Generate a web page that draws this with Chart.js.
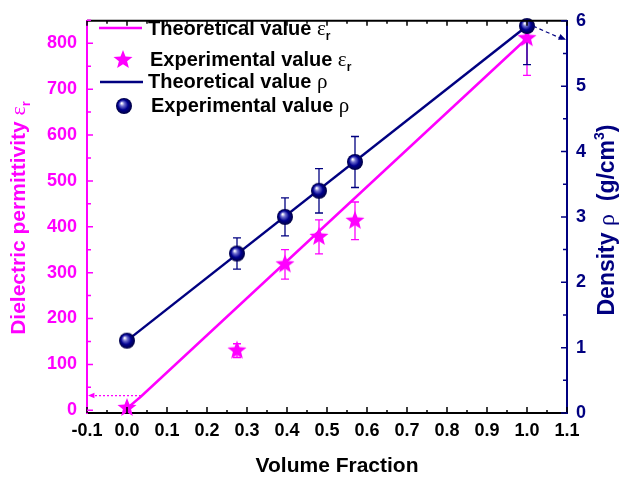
<!DOCTYPE html>
<html>
<head>
<meta charset="utf-8">
<script src="https://cdn.jsdelivr.net/npm/chart.js@4.4.1/dist/chart.umd.min.js"></script>
<style>
  html, body { margin: 0; padding: 0; background: #fff; }
  #wrap { width: 624px; height: 480px; position: relative; }
</style>
</head>
<body>
<div id="wrap"><canvas id="myChart"></canvas></div>
<script>
const PINK = '#ff00ff';
const NAVY = '#000080';
const SANS = "'Liberation Sans', Arial, sans-serif";
const SERIF = "'Liberation Serif', 'DejaVu Serif', serif";

// tick labels
const xTicks = [-0.1, 0.0, 0.1, 0.2, 0.3, 0.4, 0.5, 0.6, 0.7, 0.8, 0.9, 1.0, 1.1];
const epsTicks = [0, 100, 200, 300, 400, 500, 600, 700, 800];
const rhoTicks = [0, 1, 2, 3, 4, 5, 6];

// theoretical curves
const theoryEpsX = [0, 0.035, 1.0];
const theoryEpsY = [4, 30, 811];
const theoryRhoX = [0, 1.0];
const theoryRhoY = [1.107, 5.92];

// measured samples
const fractions = [0, 0.275, 0.395, 0.48, 0.57, 1.0];
const epsValues = [5, 130, 318, 378, 413, 811];
const epsErrors = [0, 15, 32, 37, 41, 81];
const rhoValues = [1.107, 2.44, 3.0, 3.40, 3.84, 5.92];
const rhoErrors = [0, 0.24, 0.29, 0.34, 0.39, 0.59];

// guide arrows to the axes
const epsGuide = { x: 0.035, y: 32 };
const rhoGuide = { x: 1.0, y: 5.92, axisY: 5.71 };

const pts = (xs, ys) => xs.map((v, i) => ({ x: v, y: ys[i] }));

function makeStar(r) {
  const s = Math.ceil(r * 2 + 2);
  const c = document.createElement('canvas');
  c.width = s; c.height = s;
  const g = c.getContext('2d');
  g.fillStyle = PINK;
  g.beginPath();
  for (let i = 0; i < 10; i++) {
    const rad = i % 2 ? r * 0.43 : r;
    const a = -Math.PI / 2 + i * Math.PI / 5;
    g.lineTo(s / 2 + rad * Math.cos(a), s / 2 + rad * Math.sin(a));
  }
  g.closePath();
  g.fill();
  return c;
}

function makeBall(r) {
  const s = Math.ceil(r * 2 + 2);
  const c = document.createElement('canvas');
  c.width = s; c.height = s;
  const g = c.getContext('2d');
  const grad = g.createRadialGradient(s / 2 - r * 0.3, s / 2 - r * 0.35, r * 0.05, s / 2, s / 2, r);
  grad.addColorStop(0, '#ffffff');
  grad.addColorStop(0.25, '#7070d0');
  grad.addColorStop(0.6, '#000090');
  grad.addColorStop(1, '#000040');
  g.fillStyle = grad;
  g.beginPath();
  g.arc(s / 2, s / 2, r, 0, Math.PI * 2);
  g.fill();
  return c;
}

const starImg = makeStar(10);
const ballImg = makeBall(8);

function richText(ctx, parts, x, y, align) {
  let w = 0;
  parts.forEach(p => { ctx.font = p[1]; w += ctx.measureText(p[0]).width; });
  let cx = align === 'center' ? x - w / 2 : x;
  parts.forEach(p => {
    ctx.font = p[1];
    ctx.fillText(p[0], cx, y + (p[2] || 0));
    cx += ctx.measureText(p[0]).width;
  });
}

function drawErrors(ctx, xs, ys, xv, yv, ev, color) {
  ctx.strokeStyle = color;
  ctx.lineWidth = 1.3;
  xv.forEach((v, i) => {
    if (!ev[i]) return;
    const px = xs.getPixelForValue(v);
    const lo = ys.getPixelForValue(yv[i] - ev[i]);
    const hi = ys.getPixelForValue(yv[i] + ev[i]);
    ctx.beginPath();
    ctx.moveTo(px, lo); ctx.lineTo(px, hi);
    ctx.moveTo(px - 4, lo); ctx.lineTo(px + 4, lo);
    ctx.moveTo(px - 4, hi); ctx.lineTo(px + 4, hi);
    ctx.stroke();
  });
}

function arrowHead(ctx, x1, y1, x2, y2, size) {
  const a = Math.atan2(y2 - y1, x2 - x1);
  ctx.beginPath();
  ctx.moveTo(x2, y2);
  ctx.lineTo(x2 - size * Math.cos(a - 0.4), y2 - size * Math.sin(a - 0.4));
  ctx.lineTo(x2 - size * Math.cos(a + 0.4), y2 - size * Math.sin(a + 0.4));
  ctx.closePath();
  ctx.fill();
}

const decor = {
  id: 'decor',
  beforeDatasetsDraw(chart) {
    const { ctx, chartArea: a, scales: { x, y, y2 } } = chart;
    ctx.save();
    ctx.beginPath();
    ctx.rect(a.left, a.top, a.right - a.left, a.bottom - a.top);
    ctx.clip();
    drawErrors(ctx, x, y, fractions, epsValues, epsErrors, PINK);
    drawErrors(ctx, x, y2, fractions, rhoValues, rhoErrors, NAVY);
    ctx.restore();
  },
  afterDraw(chart) {
    const { ctx, chartArea: a, scales: { x, y, y2 } } = chart;
    ctx.save();

    // top frame line
    ctx.strokeStyle = '#000';
    ctx.lineWidth = 2;
    ctx.beginPath();
    ctx.moveTo(a.left, a.top); ctx.lineTo(a.right, a.top);
    ctx.stroke();

    // inward ticks
    ctx.lineWidth = 1.5;
    xTicks.forEach((v, i) => {
      const px = x.getPixelForValue(v);
      ctx.strokeStyle = '#000';
      ctx.beginPath();
      ctx.moveTo(px, a.bottom); ctx.lineTo(px, a.bottom - 6);
      ctx.moveTo(px, a.top); ctx.lineTo(px, a.top + 5);
      if (i < xTicks.length - 1) {
        const m = x.getPixelForValue((v + xTicks[i + 1]) / 2);
        ctx.moveTo(m, a.bottom); ctx.lineTo(m, a.bottom - 3);
        ctx.moveTo(m, a.top); ctx.lineTo(m, a.top + 3);
      }
      ctx.stroke();
    });
    ctx.strokeStyle = PINK;
    epsTicks.forEach(v => {
      const py = y.getPixelForValue(v);
      const m = y.getPixelForValue(v + 50);
      ctx.beginPath();
      ctx.moveTo(a.left, py); ctx.lineTo(a.left + 6, py);
      ctx.moveTo(a.left, m); ctx.lineTo(a.left + 4, m);
      ctx.stroke();
    });
    ctx.strokeStyle = NAVY;
    rhoTicks.forEach((v, i) => {
      const py = y2.getPixelForValue(v);
      ctx.beginPath();
      ctx.moveTo(a.right, py); ctx.lineTo(a.right - 6, py);
      if (i < rhoTicks.length - 1) {
        const m = y2.getPixelForValue(v + 0.5);
        ctx.moveTo(a.right, m); ctx.lineTo(a.right - 4, m);
      }
      ctx.stroke();
    });

    // dotted guide to the permittivity axis
    const ey = y.getPixelForValue(epsGuide.y);
    const ex = x.getPixelForValue(epsGuide.x);
    ctx.strokeStyle = PINK; ctx.fillStyle = PINK;
    ctx.lineWidth = 1.2;
    ctx.setLineDash([2, 2]);
    ctx.beginPath(); ctx.moveTo(ex, ey); ctx.lineTo(a.left + 2, ey); ctx.stroke();
    ctx.setLineDash([]);
    arrowHead(ctx, ex, ey, a.left + 1, ey, 7);

    // dashed guide to the density axis
    const rx = x.getPixelForValue(rhoGuide.x) + 6;
    const ry = y2.getPixelForValue(rhoGuide.y);
    const ay = y2.getPixelForValue(rhoGuide.axisY);
    ctx.strokeStyle = NAVY; ctx.fillStyle = NAVY;
    ctx.setLineDash([4, 3]);
    ctx.beginPath(); ctx.moveTo(rx, ry); ctx.lineTo(a.right - 3, ay); ctx.stroke();
    ctx.setLineDash([]);
    arrowHead(ctx, rx, ry, a.right - 1, ay, 8);

    // axis titles
    ctx.textBaseline = 'alphabetic';
    ctx.fillStyle = '#000';
    richText(ctx, [['Volume Fraction', 'bold 21px ' + SANS]], (a.left + a.right) / 2 + 10, 472, 'center');

    ctx.save();
    ctx.translate(25, 218);
    ctx.rotate(-Math.PI / 2);
    ctx.fillStyle = PINK;
    richText(ctx, [['Dielectric permittivity ', 'bold 21px ' + SANS], ['\u03b5', '22px ' + SERIF], ['r', 'bold 13px ' + SANS, 5]], 0, 0, 'center');
    ctx.restore();

    ctx.save();
    ctx.translate(614, 220);
    ctx.rotate(-Math.PI / 2);
    ctx.fillStyle = NAVY;
    const rf = 'bold 23px ' + SANS;
    richText(ctx, [['Density ', rf], ['\u03c1', '24px ' + SERIF], ['  (g/cm', rf], ['3', 'bold 14px ' + SANS, -10], [')', rf]], 0, 0, 'center');
    ctx.restore();

    // legend
    const lf = 'bold 20px ' + SANS;
    ctx.lineWidth = 2.5;
    ctx.strokeStyle = PINK;
    ctx.beginPath(); ctx.moveTo(99, 28); ctx.lineTo(142, 28); ctx.stroke();
    ctx.fillStyle = '#000';
    richText(ctx, [['Theoretical value ', lf], ['\u03b5', '21px ' + SERIF], ['r', 'bold 12px ' + SANS, 5]], 148, 35);
    ctx.drawImage(starImg, 123 - starImg.width / 2, 60 - starImg.height / 2);
    richText(ctx, [['Experimental value ', lf], ['\u03b5', '21px ' + SERIF], ['r', 'bold 12px ' + SANS, 5]], 150, 66);
    ctx.strokeStyle = NAVY;
    ctx.beginPath(); ctx.moveTo(100, 82); ctx.lineTo(143, 82); ctx.stroke();
    richText(ctx, [['Theoretical value ', lf], ['\u03c1', '21px ' + SERIF]], 148, 88);
    ctx.drawImage(ballImg, 124 - ballImg.width / 2, 106 - ballImg.height / 2);
    richText(ctx, [['Experimental value ', lf], ['\u03c1', '21px ' + SERIF]], 151, 112);

    ctx.restore();
  }
};

const tickFont = { family: SANS, size: 18, weight: 'bold' };

new Chart(document.getElementById('myChart').getContext('2d'), {
  type: 'scatter',
  data: {
    datasets: [
      {
        label: 'Experimental value ρ',
        data: pts(fractions, rhoValues),
        yAxisID: 'y2',
        pointStyle: ballImg,
        pointRadius: 8,
        showLine: false,
        clip: false,
        order: 0
      },
      {
        label: 'Theoretical value ρ',
        data: pts(theoryRhoX, theoryRhoY),
        yAxisID: 'y2',
        showLine: true,
        borderColor: NAVY,
        borderWidth: 2.5,
        pointRadius: 0,
        order: 1
      },
      {
        label: 'Experimental value εr',
        data: pts(fractions, epsValues),
        yAxisID: 'y',
        pointStyle: starImg,
        pointRadius: 10,
        showLine: false,
        clip: false,
        order: 2
      },
      {
        label: 'Theoretical value εr',
        data: pts(theoryEpsX, theoryEpsY),
        yAxisID: 'y',
        showLine: true,
        borderColor: PINK,
        borderWidth: 2.5,
        pointRadius: 0,
        order: 3
      }
    ]
  },
  options: {
    responsive: true,
    maintainAspectRatio: false,
    animation: false,
    events: [],
    layout: { padding: { top: 16 } },
    plugins: { legend: { display: false }, tooltip: { enabled: false } },
    scales: {
      x: {
        type: 'linear',
        min: -0.1,
        max: 1.1,
        afterBuildTicks: s => { s.ticks = xTicks.map(v => ({ value: v })); },
        afterFit: s => { s.height = 67; },
        grid: { display: false, drawTicks: false },
        border: { color: '#000', width: 2 },
        ticks: { color: '#000', font: tickFont, padding: 7, maxRotation: 0, autoSkip: false, callback: v => v.toFixed(1) }
      },
      y: {
        position: 'left',
        min: -6,
        max: 849,
        afterBuildTicks: s => { s.ticks = epsTicks.map(v => ({ value: v })); },
        afterFit: s => { s.width = 87; },
        grid: { display: false, drawTicks: false },
        border: { color: PINK, width: 2 },
        ticks: { color: PINK, font: tickFont, padding: 10 }
      },
      y2: {
        position: 'right',
        min: 0,
        max: 6,
        afterBuildTicks: s => { s.ticks = rhoTicks.map(v => ({ value: v })); },
        afterFit: s => { s.width = 57; },
        grid: { display: false, drawTicks: false },
        border: { color: NAVY, width: 2 },
        ticks: { color: NAVY, font: tickFont, padding: 9 }
      }
    }
  },
  plugins: [decor]
});
</script>
</body>
</html>
